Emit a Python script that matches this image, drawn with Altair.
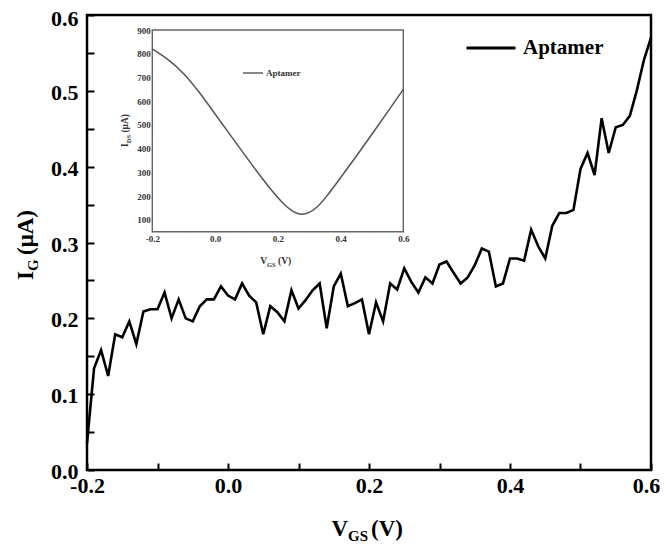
import altair as alt
import pandas as pd

# ---------------- data ----------------
SERIES = "Aptamer"

VGS = [-0.20, -0.19, -0.18, -0.17, -0.16, -0.15, -0.14, -0.13, -0.12, -0.11,
       -0.10, -0.09, -0.08, -0.07, -0.06, -0.05, -0.04, -0.03, -0.02, -0.01,
       0.00, 0.01, 0.02, 0.03, 0.04, 0.05, 0.06, 0.07, 0.08, 0.09,
       0.10, 0.11, 0.12, 0.13, 0.14, 0.15, 0.16, 0.17, 0.18, 0.19,
       0.20, 0.21, 0.22, 0.23, 0.24, 0.25, 0.26, 0.27, 0.28, 0.29,
       0.30, 0.31, 0.32, 0.33, 0.34, 0.35, 0.36, 0.37, 0.38, 0.39,
       0.40, 0.41, 0.42, 0.43, 0.44, 0.45, 0.46, 0.47, 0.48, 0.49,
       0.50, 0.51, 0.52, 0.53, 0.54, 0.55, 0.56, 0.57, 0.58, 0.59, 0.60]

IG = [0.035, 0.134, 0.158, 0.124, 0.179, 0.175, 0.196, 0.166, 0.209, 0.212,
      0.212, 0.234, 0.200, 0.225, 0.200, 0.196, 0.216, 0.225, 0.225, 0.242,
      0.230, 0.225, 0.246, 0.230, 0.221, 0.179, 0.216, 0.208, 0.196, 0.237,
      0.213, 0.224, 0.237, 0.246, 0.187, 0.242, 0.259, 0.216, 0.220, 0.225,
      0.179, 0.221, 0.196, 0.246, 0.238, 0.266, 0.248, 0.234, 0.254, 0.246,
      0.271, 0.275, 0.260, 0.246, 0.254, 0.270, 0.292, 0.288, 0.242, 0.246,
      0.279, 0.279, 0.276, 0.317, 0.295, 0.279, 0.322, 0.339, 0.339, 0.343,
      0.397, 0.418, 0.389, 0.464, 0.418, 0.452, 0.455, 0.467, 0.501, 0.541, 0.570]

INSET_VGS = [-0.20, -0.15, -0.10, -0.05, 0.00, 0.05, 0.10, 0.15, 0.20, 0.225,
             0.25, 0.275, 0.30, 0.325, 0.35, 0.40, 0.45, 0.50, 0.55, 0.60]
INSET_IDS = [820, 778, 720, 638, 546, 455, 364, 274, 192, 158,
             133, 120, 129, 152, 188, 277, 368, 460, 555, 650]

MAIN_X_DOMAIN = [-0.2, 0.6]
MAIN_Y_DOMAIN = [0.0, 0.6]
MAIN_X_TICKS = [-0.2, -0.1, 0.0, 0.1, 0.2, 0.3, 0.4, 0.5, 0.6]
MAIN_Y_TICKS = [0.0, 0.05, 0.1, 0.15, 0.2, 0.25, 0.3, 0.35, 0.4, 0.45, 0.5, 0.55, 0.6]

INSET_X_DOMAIN = [-0.2, 0.6]
INSET_Y_DOMAIN = [50, 900]
INSET_X_TICKS = [-0.2, -0.1, 0.0, 0.1, 0.2, 0.3, 0.4, 0.5, 0.6]
INSET_Y_TICKS = [100, 150, 200, 250, 300, 350, 400, 450, 500, 550, 600, 650,
                 700, 750, 800, 850, 900]

# ---------------- style ----------------
FONT = "Liberation Serif"
W, H = 564, 455
MINUS_FIX = "replace(datum.label, '\u2212', '-')"

main_df = pd.DataFrame({"vgs": VGS, "ig": IG, "series": [SERIES] * len(VGS)})
inset_df = pd.DataFrame({"vgs": INSET_VGS, "ids": INSET_IDS,
                         "series": [SERIES] * len(INSET_VGS)})
main_frame_df = pd.DataFrame({"x0": [MAIN_X_DOMAIN[0]], "x1": [MAIN_X_DOMAIN[1]],
                              "y0": [MAIN_Y_DOMAIN[0]], "y1": [MAIN_Y_DOMAIN[1]]})
inset_frame_df = pd.DataFrame({"x0": [INSET_X_DOMAIN[0]], "x1": [INSET_X_DOMAIN[1]],
                               "y0": [INSET_Y_DOMAIN[0]], "y1": [INSET_Y_DOMAIN[1]]})

# ---------------- main plot ----------------
main_x_scale = alt.Scale(domain=MAIN_X_DOMAIN, nice=False, zero=False)
main_y_scale = alt.Scale(domain=MAIN_Y_DOMAIN, nice=False, zero=False)
main_x_axis = alt.Axis(orient="bottom", values=MAIN_X_TICKS, format=".1f",
                       labelExpr="round(datum.value*10)%2==0 ? " + MINUS_FIX + " : ''",
                       offset=-7, tickSize=7, tickWidth=2, tickColor="black",
                       domain=False, grid=False, labelFont=FONT, labelFontSize=22,
                       labelFontWeight="bold", labelColor="black", labelPadding=5,
                       labelOffset={"condition": {"test": "datum.value >= 0.59", "value": -5},
                                    "value": 0},
                       labelFlush=False, labelOverlap=False, title=None)
main_y_axis = alt.Axis(orient="left", values=MAIN_Y_TICKS, format=".1f",
                       labelExpr="round(datum.value*20)%2==0 ? datum.label : ''",
                       offset=-7, tickSize=7, tickWidth=2, tickColor="black",
                       domain=False, grid=False, labelFont=FONT, labelFontSize=22,
                       labelFontWeight="bold", labelColor="black", labelPadding=9,
                       labelOffset={"condition": {"test": "datum.value >= 0.59", "value": 3.5},
                                    "value": 1.5},
                       labelFlush=False, labelOverlap=False, title=None)

main_line = alt.Chart(main_df).mark_line(strokeWidth=2.6).encode(
    x=alt.X("vgs:Q", scale=main_x_scale, axis=main_x_axis),
    y=alt.Y("ig:Q", scale=main_y_scale, axis=main_y_axis),
    color=alt.Color("series:N", scale=alt.Scale(range=["black"]),
                    legend=alt.Legend(orient="none", legendX=378, legendY=7, title=None,
                                      symbolType="stroke", symbolSize=2401,
                                      symbolStrokeWidth=3, labelFont=FONT,
                                      labelFontSize=21, labelFontWeight="bold",
                                      labelColor="black", labelOffset=6, padding=0)),
)
main_frame = alt.Chart(main_frame_df).mark_rect(
    filled=False, stroke="black", strokeWidth=2.5
).encode(
    x=alt.X("x0:Q", scale=main_x_scale, axis=main_x_axis),
    x2="x1:Q",
    y=alt.Y("y0:Q", scale=main_y_scale, axis=main_y_axis),
    y2="y1:Q",
)
main = alt.layer(main_line, main_frame)

# ---------------- inset ----------------
inset_x_scale = alt.Scale(domain=INSET_X_DOMAIN, range=[65.3, 316.3], nice=False, zero=False)
inset_y_scale = alt.Scale(domain=INSET_Y_DOMAIN, range=[216.7, 15], nice=False, zero=False)

inset_x_axis = alt.Axis(orient="bottom", values=INSET_X_TICKS, format=".1f",
                        labelExpr="round(datum.value*10)%2==0 ? " + MINUS_FIX + " : ''",
                        offset=-(H - 216.7 + 3), tickSize=3, tickWidth=1, tickColor="#555",
                        domain=False, grid=False, labelFont=FONT, labelFontSize=9,
                        labelFontWeight="bold", labelColor="#333", labelPadding=3,
                        labelFlush=False, labelOverlap=False, title=None)
inset_y_axis = alt.Axis(orient="left", values=INSET_Y_TICKS, format="d",
                        labelExpr="datum.value%100==0 ? datum.label : ''",
                        offset=-(65.3 + 3), tickSize=3, tickWidth=1, tickColor="#555",
                        domain=False, grid=False, labelFont=FONT, labelFontSize=9,
                        labelFontWeight="bold", labelColor="#333", labelPadding=2,
                        labelFlush=False, labelOverlap=False, title=None)

inset_frame = alt.Chart(inset_frame_df).mark_rect(fill="white", stroke="#666", strokeWidth=1.4).encode(
    x=alt.X("x0:Q", scale=inset_x_scale, axis=inset_x_axis),
    x2="x1:Q",
    y=alt.Y("y0:Q", scale=inset_y_scale, axis=inset_y_axis),
    y2="y1:Q",
)
inset_line = alt.Chart(inset_df).mark_line(strokeWidth=1.5, interpolate="basis").encode(
    x=alt.X("vgs:Q", scale=inset_x_scale, axis=inset_x_axis),
    y=alt.Y("ids:Q", scale=inset_y_scale, axis=inset_y_axis),
    color=alt.Color("series:N", scale=alt.Scale(range=["#555555"]),
                    legend=alt.Legend(orient="none", legendX=155, legendY=47, title=None,
                                      symbolType="stroke", symbolSize=400,
                                      symbolStrokeWidth=1.4, labelFont=FONT,
                                      labelFontSize=9, labelFontWeight="bold",
                                      labelColor="#333", labelOffset=2, padding=0)),
)
inset = alt.layer(inset_frame, inset_line)

# ---------------- axis titles (with subscripts) ----------------
one = pd.DataFrame({"k": [0]})


def label(txt, x, y, size, align, color="black", angle=0):
    return alt.Chart(one).mark_text(
        font=FONT, fontSize=size, fontWeight="bold", align=align,
        baseline="alphabetic", angle=angle, color=color,
    ).encode(x=alt.value(x), y=alt.value(y), text=alt.value(txt))


titles = [
    # main x title: V_GS (V)
    label("V", 261, 521, 23, "right"),
    label("GS", 261, 526, 15, "left"),
    label("(V)", 284, 521, 23, "left"),
    # main y title: I_G (μA)
    label("I", -54, 256, 23, "right", angle=270),
    label("G", -49, 256, 15, "left", angle=270),
    label("(\u03bcA)", -54, 240, 23, "left", angle=270),
    # inset x title
    label("V", 180, 249, 9.5, "right", "#333"),
    label("GS", 180, 251.5, 6.5, "left", "#333"),
    label("(V)", 191, 249, 9.5, "left", "#333"),
    # inset y title
    label("I", 41, 128.3, 9.5, "right", "#333", angle=270),
    label("DS", 43.5, 128.3, 6.5, "left", "#333", angle=270),
    label("(\u03bcA)", 41, 117.6, 9.5, "left", "#333", angle=270),
]

chart = alt.layer(main, inset, *titles).resolve_scale(
    x="independent", y="independent", color="independent"
).properties(
    width=W, height=H,
    autosize=alt.AutoSizeParams(type="none"),
    padding={"left": 79, "top": 7, "right": 9, "bottom": 74},
).configure_view(
    stroke=None
).configure(background="white")

chart.save("out.html", embed_options={"renderer": "svg", "actions": False})
